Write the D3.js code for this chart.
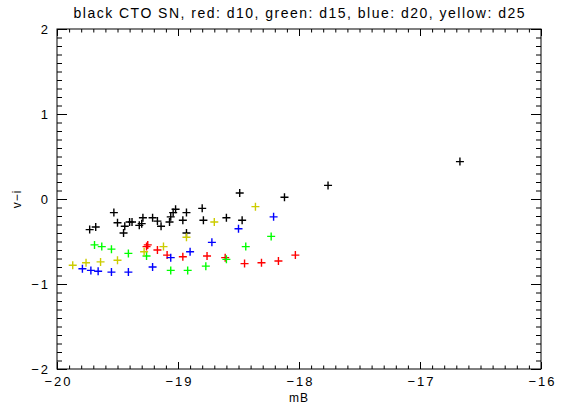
<!DOCTYPE html>
<html><head><meta charset="utf-8">
<script src="https://cdn.jsdelivr.net/npm/d3@7"></script>
<style>body{margin:0;background:#fff}svg{display:block}text{font-family:"Liberation Sans",Arial,sans-serif}</style>
</head><body><svg id="c" width="561" height="405"></svg>
<script>
const title = "black CTO SN, red: d10, green: d15, blue: d20, yellow: d25";
const xLabel = "mB", yLabel = "v\u2212i";
const xTicks = [-20, -19, -18, -17, -16];
const yTicks = [-2, -1, 0, 1, 2];

const blackX = [-19.73,-19.68,-19.53,-19.50,-19.44,-19.45,-19.40,-19.38,-19.32,-19.29,-19.30,-19.21,-19.17,-19.14,-19.07,-19.06,-19.04,-19.02,-18.93,-18.96,-18.80,-18.79,-18.60,-18.47,-18.93,-18.49,-18.12,-17.76,-16.67];
const blackY = [-0.36,-0.33,-0.16,-0.28,-0.32,-0.40,-0.27,-0.27,-0.31,-0.22,-0.29,-0.22,-0.26,-0.32,-0.27,-0.21,-0.16,-0.12,-0.16,-0.25,-0.11,-0.25,-0.22,-0.25,-0.40,0.07,0.02,0.16,0.44];
const redX = [-19.25,-19.26,-19.17,-19.09,-18.96,-18.76,-18.61,-18.45,-18.31,-18.17,-18.03];
const redY = [-0.54,-0.56,-0.60,-0.66,-0.68,-0.67,-0.69,-0.76,-0.75,-0.73,-0.66];
const greenX = [-19.69,-19.63,-19.55,-19.41,-19.26,-19.06,-18.92,-18.77,-18.60,-18.44,-18.23];
const greenY = [-0.54,-0.56,-0.59,-0.64,-0.67,-0.84,-0.84,-0.79,-0.71,-0.56,-0.44];
const blueX = [-19.79,-19.72,-19.66,-19.55,-19.41,-19.21,-19.06,-18.90,-18.72,-18.50,-18.21];
const blueY = [-0.82,-0.84,-0.85,-0.86,-0.86,-0.80,-0.69,-0.62,-0.51,-0.35,-0.21];
const yellowX = [-19.87,-19.76,-19.64,-19.50,-19.28,-19.12,-18.93,-18.70,-18.36];
const yellowY = [-0.78,-0.75,-0.74,-0.72,-0.62,-0.56,-0.45,-0.27,-0.09];

const series = [
  {x: blackX, y: blackY, color: "#000000"},
  {x: redX, y: redY, color: "#ff0000"},
  {x: greenX, y: greenY, color: "#00ff00"},
  {x: blueX, y: blueY, color: "#0000ff"},
  {x: yellowX, y: yellowY, color: "#cccc00"}
];

const L = 57, R = 541, T = 29, B = 369;
const svg = d3.select("#c");
const x = d3.scaleLinear().domain([-20, -16]).range([L, R]);
const y = d3.scaleLinear().domain([-2, 2]).range([B, T]);
const minorX = d3.range(-20, -15.99, 0.1).map(v => +v.toFixed(2));
const minorY = d3.range(-2, 2.001, 0.1).map(v => +v.toFixed(2));
const fmt = d => d < 0 ? "\u2212" + Math.abs(d) : String(d);

function styleAxis(g) {
  g.select(".domain").remove();
  g.selectAll("line").attr("stroke", "#000").attr("stroke-width", 1);
  g.selectAll("text").attr("font-size", 13).attr("fill", "#000");
}

// bottom
svg.append("g").attr("transform", `translate(0,${B})`)
  .call(d3.axisBottom(x).tickValues(minorX).tickSize(-3.5).tickFormat("")).call(styleAxis);
svg.append("g").attr("transform", `translate(0,${B})`)
  .call(d3.axisBottom(x).tickValues(xTicks).tickSize(-7).tickPadding(8).tickFormat(fmt)).call(styleAxis)
  .selectAll("text").attr("letter-spacing", "2px").attr("dx", "1");
// top
svg.append("g").attr("transform", `translate(0,${T})`)
  .call(d3.axisTop(x).tickValues(minorX).tickSize(-3.5).tickFormat("")).call(styleAxis);
svg.append("g").attr("transform", `translate(0,${T})`)
  .call(d3.axisTop(x).tickValues(xTicks).tickSize(-7).tickFormat("")).call(styleAxis);
// left
svg.append("g").attr("transform", `translate(${L},0)`)
  .call(d3.axisLeft(y).tickValues(minorY).tickSize(-5).tickFormat("")).call(styleAxis);
svg.append("g").attr("transform", `translate(${L},0)`)
  .call(d3.axisLeft(y).tickValues(yTicks).tickSize(-10).tickPadding(7).tickFormat(fmt)).call(styleAxis)
  .selectAll("text").attr("letter-spacing", "2px");
// right
svg.append("g").attr("transform", `translate(${R},0)`)
  .call(d3.axisRight(y).tickValues(minorY).tickSize(-5).tickFormat("")).call(styleAxis);
svg.append("g").attr("transform", `translate(${R},0)`)
  .call(d3.axisRight(y).tickValues(yTicks).tickSize(-10).tickFormat("")).call(styleAxis);

// frame
svg.append("rect").attr("x", L).attr("y", T).attr("width", R - L).attr("height", B - T)
  .attr("fill", "none").attr("stroke", "#000").attr("stroke-width", 1);

// points
const s = 4;
series.forEach(sr => {
  const g = svg.append("g").attr("stroke", sr.color).attr("stroke-width", 1.4);
  sr.x.forEach((xv, i) => {
    const px = x(xv), py = y(sr.y[i]);
    g.append("path").attr("d", `M${px - s},${py}H${px + s}M${px},${py - s}V${py + s}`);
  });
});

// labels
svg.append("text").attr("x", (L + R) / 2).attr("y", 18).attr("text-anchor", "middle")
  .attr("font-size", 14).attr("textLength", 451).attr("lengthAdjust", "spacing").text(title);
svg.append("text").attr("x", (L + R) / 2).attr("y", 402).attr("text-anchor", "middle")
  .attr("font-size", 12).attr("letter-spacing", "1px").text(xLabel);
svg.append("text").attr("transform", `translate(21,${(T + B) / 2}) rotate(-90)`).attr("text-anchor", "middle")
  .attr("font-size", 12).attr("letter-spacing", "1px").text(yLabel);
</script></body></html>
